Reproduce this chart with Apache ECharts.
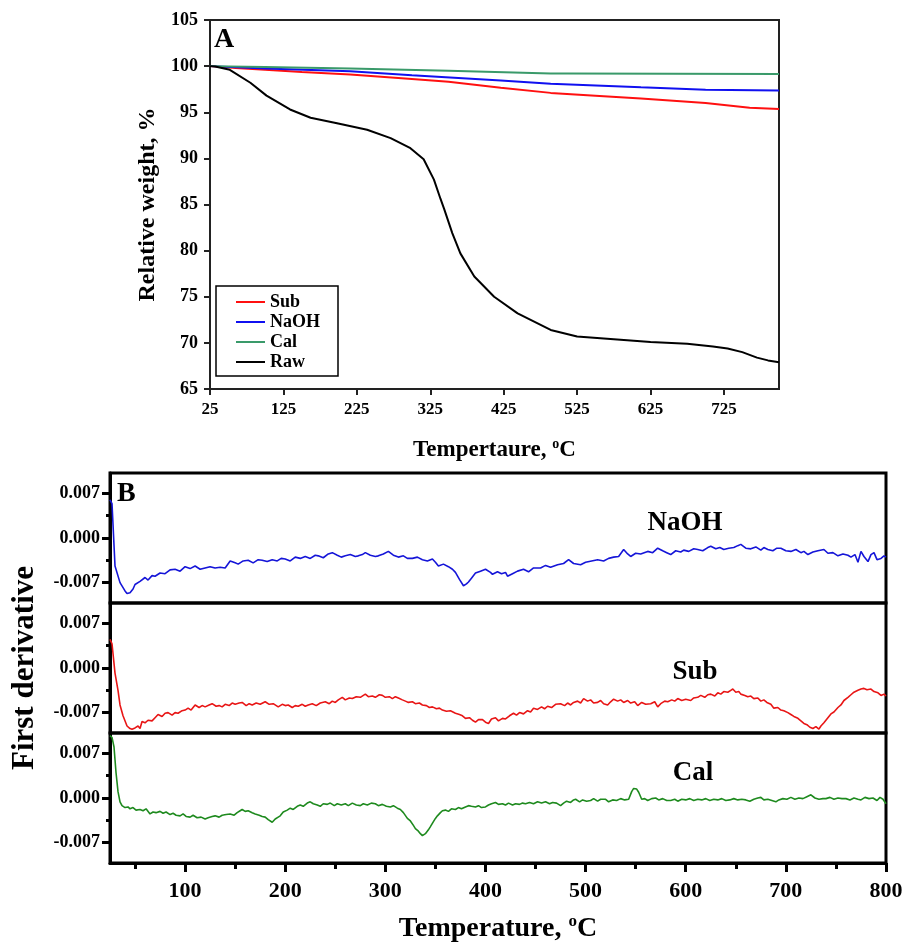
<!DOCTYPE html>
<html>
<head>
<meta charset="utf-8">
<script src="https://cdn.jsdelivr.net/npm/echarts@6/dist/echarts.min.js"></script>
<style>
html,body{margin:0;padding:0;background:#fff;}
#chart{width:907px;height:945px;}
</style>
</head>
<body>
<div id="chart"></div>
<script>
// ---------- Panel A: TGA relative weight (%) ----------
const aTempTicks = [25, 125, 225, 325, 425, 525, 625, 725];
const rawT = [25, 32, 52, 80, 102, 134, 162, 198, 239, 271, 298, 316, 330, 339, 344, 355, 366, 385, 412, 444, 489, 525, 575, 625, 675, 710, 730, 750, 770, 785, 800];
const rawW = [100, 99.95, 99.6, 98.2, 96.8, 95.3, 94.4, 93.8, 93.1, 92.2, 91.1, 89.9, 87.7, 85.6, 84.5, 81.9, 79.7, 77.2, 75.0, 73.2, 71.4, 70.7, 70.4, 70.1, 69.9, 69.6, 69.4, 69.0, 68.4, 68.1, 67.9];
const subT = [25, 60, 100, 150, 216, 300, 350, 421, 489, 550, 612, 700, 760, 800];
const subW = [100, 99.8, 99.6, 99.35, 99.1, 98.6, 98.3, 97.65, 97.1, 96.8, 96.5, 96.0, 95.5, 95.35];
const naohT = [25, 100, 216, 300, 421, 489, 612, 700, 800];
const naohW = [100, 99.75, 99.45, 99.0, 98.45, 98.1, 97.7, 97.45, 97.35];
const calT = [25, 100, 216, 350, 489, 512, 800];
const calW = [100, 99.9, 99.75, 99.5, 99.2, 99.2, 99.15];

// ---------- Panel B: first derivative ----------
const bLabelTicks = [-0.007, 0, 0.007];
const bMinorTicks = [-0.0035, 0.0035];
const bTempMajor = [100, 200, 300, 400, 500, 600, 700, 800];
const bTempMinor = [50, 150, 250, 350, 450, 550, 650, 750];

const dNaohT = [25,27,30,35,40,42,45,48,50,55,60,63,67,70,75,80,85,90,95,100,105,110,115,120,125,130,135,140,145,150,153,158,163,168,173,177,182,187,192,196,200,205,210,215,220,225,230,233,238,243,247,252,256,260,265,270,273,277,280,285,290,293,298,303,308,313,318,322,327,332,337,342,347,350,353,358,363,367,370,374,378,381,383,386,390,395,400,405,407,412,416,420,422,427,432,438,443,448,455,460,465,472,478,483,488,495,500,506,512,518,523,528,533,538,542,545,550,555,562,567,572,577,581,585,590,595,598,603,608,612,617,622,625,630,634,638,643,648,652,655,660,665,670,675,678,682,687,691,695,700,705,710,715,718,722,727,732,738,742,747,752,757,762,765,769,772,775,778,782,785,788,791,795,798,800];
const dNaohV = [0.0060,0.0054,-0.0044,-0.0070,-0.0083,-0.0087,-0.0086,-0.0080,-0.0073,-0.0068,-0.0062,-0.0066,-0.0059,-0.0060,-0.0055,-0.0056,-0.0050,-0.0049,-0.0052,-0.0045,-0.0048,-0.0044,-0.0049,-0.0047,-0.0045,-0.0047,-0.0046,-0.0047,-0.0036,-0.0039,-0.0041,-0.0036,-0.0035,-0.0039,-0.0034,-0.0035,-0.0037,-0.0034,-0.0036,-0.0032,-0.0033,-0.0036,-0.0030,-0.0032,-0.0029,-0.0032,-0.0027,-0.0028,-0.0031,-0.0025,-0.0023,-0.0027,-0.0030,-0.0028,-0.0026,-0.0029,-0.0028,-0.0026,-0.0023,-0.0027,-0.0029,-0.0028,-0.0025,-0.0021,-0.0027,-0.0030,-0.0028,-0.0032,-0.0032,-0.0030,-0.0034,-0.0036,-0.0033,-0.0038,-0.0044,-0.0041,-0.0045,-0.0049,-0.0054,-0.0065,-0.0075,-0.0072,-0.0069,-0.0063,-0.0055,-0.0052,-0.0049,-0.0054,-0.0057,-0.0053,-0.0056,-0.0054,-0.0060,-0.0056,-0.0052,-0.0049,-0.0053,-0.0047,-0.0047,-0.0043,-0.0046,-0.0042,-0.0040,-0.0034,-0.0040,-0.0042,-0.0038,-0.0036,-0.0034,-0.0036,-0.0032,-0.0030,-0.0029,-0.0018,-0.0025,-0.0029,-0.0024,-0.0025,-0.0021,-0.0023,-0.0016,-0.0020,-0.0023,-0.0026,-0.0020,-0.0022,-0.0019,-0.0021,-0.0017,-0.0018,-0.0020,-0.0015,-0.0013,-0.0017,-0.0015,-0.0018,-0.0016,-0.0015,-0.0012,-0.0010,-0.0016,-0.0017,-0.0014,-0.0019,-0.0015,-0.0018,-0.0020,-0.0016,-0.0016,-0.0020,-0.0021,-0.0018,-0.0023,-0.0021,-0.0026,-0.0022,-0.0020,-0.0018,-0.0024,-0.0023,-0.0028,-0.0025,-0.0027,-0.0030,-0.0026,-0.0038,-0.0021,-0.0029,-0.0037,-0.0026,-0.0023,-0.0034,-0.0032,-0.0028,-0.0030];

const dSubT = [25,27,30,33,35,38,42,45,47,50,53,55,57,60,63,67,70,73,77,80,83,87,90,93,97,100,103,106,110,114,117,120,124,127,131,134,137,140,144,147,150,154,157,161,164,167,171,175,180,184,188,193,197,200,203,207,210,213,217,220,223,227,231,235,240,244,247,250,253,257,260,264,267,271,275,280,283,287,290,294,297,300,304,307,310,313,317,320,323,327,330,334,337,341,344,347,351,354,357,361,365,370,374,377,380,384,387,390,393,397,400,403,406,410,413,417,420,424,428,431,434,438,442,445,448,452,456,459,462,466,470,475,479,482,485,488,492,495,498,502,505,508,512,515,518,522,525,528,532,535,538,542,545,549,552,556,560,565,569,572,575,579,582,586,589,592,596,600,605,608,612,615,619,622,625,629,632,635,638,642,645,647,650,653,655,659,662,665,668,672,675,678,681,685,688,692,695,698,702,705,708,712,715,718,721,724,727,730,733,735,738,741,745,748,752,755,758,762,765,768,772,775,778,781,785,788,792,795,798,800];
const dSubV = [0.0045,0.0038,-0.0008,-0.0035,-0.0058,-0.0075,-0.0091,-0.0095,-0.0096,-0.0094,-0.0091,-0.0095,-0.0084,-0.0086,-0.0082,-0.0083,-0.0078,-0.0073,-0.0076,-0.0071,-0.0070,-0.0074,-0.0070,-0.0071,-0.0067,-0.0066,-0.0063,-0.0066,-0.0058,-0.0062,-0.0059,-0.0061,-0.0058,-0.0056,-0.0060,-0.0059,-0.0061,-0.0057,-0.0059,-0.0055,-0.0057,-0.0055,-0.0054,-0.0059,-0.0056,-0.0058,-0.0055,-0.0057,-0.0053,-0.0057,-0.0056,-0.0061,-0.0057,-0.0059,-0.0058,-0.0062,-0.0059,-0.0060,-0.0057,-0.0060,-0.0058,-0.0056,-0.0059,-0.0055,-0.0053,-0.0056,-0.0052,-0.0054,-0.0050,-0.0046,-0.0050,-0.0047,-0.0048,-0.0045,-0.0046,-0.0041,-0.0045,-0.0044,-0.0046,-0.0042,-0.0043,-0.0046,-0.0045,-0.0048,-0.0045,-0.0047,-0.0050,-0.0052,-0.0054,-0.0053,-0.0056,-0.0055,-0.0058,-0.0059,-0.0062,-0.0061,-0.0064,-0.0063,-0.0066,-0.0068,-0.0067,-0.0071,-0.0073,-0.0075,-0.0079,-0.0078,-0.0082,-0.0085,-0.0081,-0.0081,-0.0085,-0.0087,-0.0080,-0.0078,-0.0083,-0.0079,-0.0080,-0.0075,-0.0071,-0.0074,-0.0070,-0.0072,-0.0067,-0.0069,-0.0063,-0.0065,-0.0061,-0.0064,-0.0060,-0.0062,-0.0057,-0.0056,-0.0059,-0.0055,-0.0058,-0.0054,-0.0052,-0.0055,-0.0048,-0.0052,-0.0050,-0.0055,-0.0054,-0.0051,-0.0056,-0.0058,-0.0053,-0.0049,-0.0052,-0.0050,-0.0054,-0.0051,-0.0055,-0.0053,-0.0059,-0.0054,-0.0057,-0.0056,-0.0053,-0.0061,-0.0056,-0.0052,-0.0053,-0.0050,-0.0052,-0.0048,-0.0051,-0.0049,-0.0051,-0.0047,-0.0046,-0.0043,-0.0046,-0.0042,-0.0041,-0.0044,-0.0039,-0.0041,-0.0037,-0.0038,-0.0035,-0.0033,-0.0038,-0.0037,-0.0041,-0.0043,-0.0045,-0.0044,-0.0048,-0.0047,-0.0052,-0.0050,-0.0054,-0.0057,-0.0063,-0.0062,-0.0066,-0.0067,-0.0070,-0.0073,-0.0076,-0.0079,-0.0083,-0.0087,-0.0089,-0.0093,-0.0095,-0.0092,-0.0096,-0.0091,-0.0086,-0.0080,-0.0072,-0.0069,-0.0062,-0.0058,-0.0051,-0.0046,-0.0042,-0.0038,-0.0035,-0.0033,-0.0032,-0.0034,-0.0033,-0.0037,-0.0039,-0.0043,-0.0041,-0.0044];

const dCalT = [25,27,29,31,33,35,37,40,43,45,48,51,55,58,61,65,68,71,75,78,81,85,88,91,95,98,101,105,108,112,116,120,123,127,130,134,137,141,145,149,152,155,157,160,163,167,170,174,177,180,183,187,190,193,195,198,202,205,208,212,215,218,222,225,228,232,235,238,242,245,249,252,256,260,263,267,271,275,278,282,286,290,293,297,301,305,308,312,315,318,322,325,328,330,333,335,337,340,343,345,348,350,352,355,357,360,363,366,370,373,376,380,383,386,390,393,396,400,403,406,410,413,417,420,423,427,430,434,437,440,444,448,452,456,460,464,467,471,475,478,481,485,488,490,494,497,501,505,508,512,515,520,523,527,531,535,539,543,546,548,551,553,556,559,562,566,570,573,577,581,585,589,592,596,600,604,608,612,616,620,624,628,632,636,640,644,648,652,656,660,664,668,672,675,678,682,686,690,693,697,701,705,709,713,717,721,725,729,733,737,740,744,748,752,756,760,764,768,772,775,779,783,787,791,794,797,800];
const dCalV = [0.0098,0.0095,0.0080,0.0040,0.0010,-0.0006,-0.0012,-0.0015,-0.0014,-0.0017,-0.0015,-0.0019,-0.0018,-0.0020,-0.0017,-0.0025,-0.0022,-0.0023,-0.0021,-0.0024,-0.0022,-0.0026,-0.0024,-0.0027,-0.0028,-0.0025,-0.0029,-0.0030,-0.0027,-0.0031,-0.0030,-0.0033,-0.0031,-0.0029,-0.0028,-0.0030,-0.0027,-0.0026,-0.0025,-0.0027,-0.0023,-0.0020,-0.0018,-0.0021,-0.0020,-0.0023,-0.0025,-0.0027,-0.0029,-0.0030,-0.0034,-0.0038,-0.0033,-0.0030,-0.0028,-0.0022,-0.0019,-0.0016,-0.0018,-0.0013,-0.0011,-0.0013,-0.0008,-0.0006,-0.0009,-0.0011,-0.0013,-0.0009,-0.0010,-0.0008,-0.0012,-0.0009,-0.0011,-0.0009,-0.0012,-0.0008,-0.0011,-0.0012,-0.0009,-0.0011,-0.0008,-0.0009,-0.0012,-0.0010,-0.0013,-0.0014,-0.0012,-0.0016,-0.0018,-0.0023,-0.0032,-0.0036,-0.0043,-0.0048,-0.0052,-0.0056,-0.0059,-0.0056,-0.0050,-0.0045,-0.0037,-0.0032,-0.0028,-0.0023,-0.0020,-0.0019,-0.0021,-0.0017,-0.0018,-0.0015,-0.0017,-0.0014,-0.0012,-0.0013,-0.0014,-0.0012,-0.0015,-0.0014,-0.0011,-0.0009,-0.0007,-0.0010,-0.0009,-0.0011,-0.0008,-0.0011,-0.0009,-0.0010,-0.0008,-0.0009,-0.0007,-0.0009,-0.0006,-0.0008,-0.0006,-0.0009,-0.0007,-0.0008,-0.0012,-0.0008,-0.0005,-0.0007,-0.0003,-0.0002,-0.0006,-0.0003,-0.0005,-0.0004,-0.0001,-0.0005,-0.0002,-0.0002,-0.0006,-0.0003,-0.0004,-0.0001,-0.0003,-0.0002,0.0010,0.0015,0.0014,0.0009,-0.0002,-0.0001,-0.0004,-0.0001,0.0000,-0.0003,-0.0001,-0.0004,-0.0004,-0.0002,-0.0005,-0.0002,-0.0003,-0.0001,-0.0004,-0.0002,-0.0003,-0.0001,-0.0004,-0.0002,-0.0003,-0.0001,-0.0004,-0.0003,-0.0001,-0.0003,-0.0002,-0.0003,-0.0005,-0.0002,0.0000,0.0001,-0.0003,-0.0002,-0.0004,-0.0006,-0.0003,-0.0001,-0.0002,0.0001,-0.0002,0.0000,-0.0001,0.0002,0.0005,0.0000,-0.0002,-0.0001,-0.0001,0.0001,-0.0002,0.0000,-0.0001,-0.0001,-0.0003,0.0000,-0.0002,-0.0003,0.0001,-0.0001,0.0000,-0.0004,0.0001,-0.0002,-0.0009];

// ---------- build ----------
const zip = (xs, ys) => xs.map((x, i) => [x, ys[i]]);
const SERIF = "'Liberation Serif', 'Times New Roman', serif";
const bold = (size) => ({ fontFamily: SERIF, fontWeight: 'bold', fontSize: size, color: '#000' });

const aBox = { left: 210, top: 20, width: 569, height: 369 };
const bBoxes = [
  { left: 110, top: 473, width: 776, height: 130 },
  { left: 110, top: 603, width: 776, height: 130 },
  { left: 110, top: 733, width: 776, height: 130 }
];
const B_MIN = -0.0102, B_MAX = 0.0102;

const grids = [
  Object.assign({ show: true, borderColor: '#222', borderWidth: 2 }, aBox)
].concat(bBoxes.map(b => Object.assign({ show: true, borderColor: '#000', borderWidth: 3 }, b)));

const xAxes = [
  { type: 'value', gridIndex: 0, min: 25, max: 800, position: 'bottom',
    axisLine: { onZero: false, lineStyle: { color: '#222', width: 2 } },
    axisTick: { customValues: aTempTicks, length: 6, lineStyle: { color: '#222', width: 2 } },
    axisLabel: Object.assign({ customValues: aTempTicks, margin: 12 }, bold(17)),
    splitLine: { show: false },
    name: '{t|Tempertaure, }{s|o}{t|C}', nameLocation: 'middle', nameGap: 48,
    nameTextStyle: { rich: { t: bold(23), s: Object.assign(bold(14), { padding: [0, 0, 12, 0] }) } }
  },
  { type: 'value', gridIndex: 1, min: 25, max: 800, show: false },
  { type: 'value', gridIndex: 2, min: 25, max: 800, show: false },
  { type: 'value', gridIndex: 3, min: 25, max: 800, position: 'bottom',
    axisLine: { onZero: false, lineStyle: { color: '#000', width: 3 } },
    axisTick: { customValues: bTempMajor, length: 9, lineStyle: { color: '#000', width: 3 } },
    axisLabel: Object.assign({ customValues: bTempMajor, margin: 17 }, bold(22)),
    splitLine: { show: false },
    name: '{t|Temperature, }{s|o}{t|C}', nameLocation: 'middle', nameGap: 50,
    nameTextStyle: { rich: { t: bold(28), s: Object.assign(bold(17), { padding: [0, 0, 15, 0] }) } }
  },
  { type: 'value', gridIndex: 3, min: 25, max: 800, position: 'bottom',
    axisLine: { show: false, onZero: false },
    axisTick: { customValues: bTempMinor, length: 6, lineStyle: { color: '#000', width: 3 } },
    axisLabel: { show: false }, splitLine: { show: false }
  }
];

const yAxes = [
  { type: 'value', gridIndex: 0, min: 65, max: 105, interval: 5, position: 'left',
    axisLine: { show: true, onZero: false, lineStyle: { color: '#222', width: 2 } },
    axisTick: { show: true, length: 6, lineStyle: { color: '#222', width: 2 } },
    axisLabel: Object.assign({ margin: 12 }, bold(18)),
    splitLine: { show: false },
    name: 'Relative weight, %', nameLocation: 'middle', nameGap: 48,
    nameTextStyle: bold(24)
  }
];
bBoxes.forEach((b, i) => {
  yAxes.push({
    type: 'value', gridIndex: i + 1, min: B_MIN, max: B_MAX, position: 'left',
    axisLine: { show: true, onZero: false, lineStyle: { color: '#000', width: 3 } },
    axisTick: { show: true, customValues: bLabelTicks, length: 8, lineStyle: { color: '#000', width: 3 } },
    axisLabel: Object.assign({ customValues: bLabelTicks, margin: 10, formatter: v => v.toFixed(3) }, bold(18)),
    splitLine: { show: false },
    name: i === 1 ? 'First derivative' : '', nameLocation: 'middle', nameGap: 70,
    nameTextStyle: bold(31)
  });
});
bBoxes.forEach((b, i) => {
  yAxes.push({
    type: 'value', gridIndex: i + 1, min: B_MIN, max: B_MAX, position: 'left',
    axisLine: { show: false, onZero: false },
    axisTick: { show: true, customValues: bMinorTicks, length: 4, lineStyle: { color: '#000', width: 3 } },
    axisLabel: { show: false }, splitLine: { show: false }
  });
});

const lineA = (name, data, color) => ({
  name, type: 'line', xAxisIndex: 0, yAxisIndex: 0, data, symbol: 'none', smooth: false,
  lineStyle: { color, width: 2 }, itemStyle: { color }
});
const lineB = (name, xi, yi, data, color) => ({
  name, type: 'line', xAxisIndex: xi, yAxisIndex: yi, data, symbol: 'none', clip: true,
  lineStyle: { color, width: 1.6 }, itemStyle: { color }
});

const option = {
  animation: false,
  backgroundColor: '#fff',
  grid: grids,
  xAxis: xAxes,
  yAxis: yAxes,
  legend: {
    data: ['Sub', 'NaOH', 'Cal', 'Raw'],
    orient: 'vertical', left: 216, top: 286,
    icon: 'rect',
    itemWidth: 29, itemHeight: 2, itemGap: 2,
    padding: [7, 18, 5, 20],
    borderColor: '#000', borderWidth: 1.5,
    textStyle: bold(18),
    selectedMode: false
  },
  graphic: [
    { type: 'text', left: 214, top: 26, style: { text: 'A', font: "bold 28px 'Liberation Serif', serif", fill: '#000' } },
    { type: 'text', left: 117, top: 480, style: { text: 'B', font: "bold 28px 'Liberation Serif', serif", fill: '#000' } },
    { type: 'text', x: 685, y: 523, style: { text: 'NaOH', font: "bold 27px 'Liberation Serif', serif", fill: '#000', align: 'center', verticalAlign: 'middle' } },
    { type: 'text', x: 695, y: 672, style: { text: 'Sub', font: "bold 27px 'Liberation Serif', serif", fill: '#000', align: 'center', verticalAlign: 'middle' } },
    { type: 'text', x: 693, y: 773, style: { text: 'Cal', font: "bold 27px 'Liberation Serif', serif", fill: '#000', align: 'center', verticalAlign: 'middle' } }
  ],
  series: [
    lineA('Sub', zip(subT, subW), '#ff1010'),
    lineA('NaOH', zip(naohT, naohW), '#1010f0'),
    lineA('Cal', zip(calT, calW), '#3a9a6a'),
    lineA('Raw', zip(rawT, rawW), '#000000'),
    lineB('NaOH derivative', 1, 1, zip(dNaohT, dNaohV), '#1515d8'),
    lineB('Sub derivative', 2, 2, zip(dSubT, dSubV), '#e81515'),
    lineB('Cal derivative', 3, 3, zip(dCalT, dCalV), '#1e8a1e')
  ]
};

const chart = echarts.init(document.getElementById('chart'), null, { renderer: 'canvas' });
chart.setOption(option);
</script>
</body>
</html>
